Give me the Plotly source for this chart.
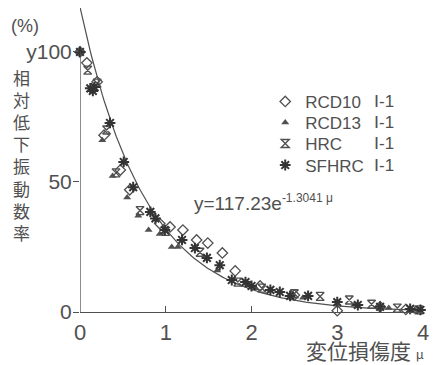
import numpy as np
import plotly.graph_objects as go

# ---- data ----
rcd10_x = [0.0, 0.08, 0.20, 0.28, 0.47, 0.58, 0.93, 1.05, 1.20, 1.36, 1.49, 1.66, 1.81, 2.10, 2.50, 3.00, 3.50, 3.80]
rcd10_y = [100, 95.8, 88.5, 68.0, 54.6, 47.0, 34.0, 32.7, 31.5, 27.7, 26.5, 22.7, 15.8, 10.0, 6.5, 0.5, 2.0, 1.0]

rcd13_x = [0.26, 0.38, 0.55, 0.68, 0.80, 0.93, 1.07, 1.14, 1.60, 2.05, 2.60, 3.20, 3.60, 3.90]
rcd13_y = [66.0, 52.3, 44.0, 37.0, 31.5, 30.0, 25.0, 25.0, 16.0, 9.0, 5.5, 2.8, 1.5, 0.8]

hrc_x = [0.09, 0.20, 0.31, 0.42, 0.70, 1.00, 1.40, 1.84, 2.12, 2.50, 2.80, 3.14, 3.40, 3.70, 3.95]
hrc_y = [93.0, 88.0, 70.0, 53.5, 39.0, 31.0, 23.0, 11.5, 9.2, 7.0, 6.0, 4.6, 3.0, 1.5, 0.8]

sf_x = [0.0, 0.12, 0.15, 0.17, 0.35, 0.51, 0.62, 0.82, 0.88, 0.99, 1.19, 1.34, 1.48, 1.63, 1.77,
        1.93, 2.00, 2.22, 2.33, 2.45, 2.66, 3.00, 3.24, 3.50, 3.85, 3.97]
sf_y = [100, 86.0, 85.0, 86.5, 72.7, 57.7, 48.0, 38.5, 36.0, 31.5, 27.7, 24.6, 20.8, 18.0, 12.3,
        11.5, 10.0, 8.5, 7.7, 6.2, 6.2, 3.8, 2.7, 2.0, 1.2, 0.8]

fit_a = 117.23
fit_b = 1.3041

x_ticks = [0, 1, 2, 3, 4]
x_ticktext = ["0", "1", "2", "3", "4"]
y_ticks = [0, 50, 100]
y_ticktext = ["0", "50", "y100"]

legend_names = ["RCD10", "RCD13", "HRC", "SFHRC"]
legend_suffix = "Ⅰ-1"

ink = "#505050"
font_main = "Liberation Sans, Arial, sans-serif"
font_cjk = "Noto Sans CJK JP, sans-serif"

fig = go.Figure()

fx = np.linspace(0, 4, 200)
fy = fit_a * np.exp(-fit_b * fx)
fig.add_trace(go.Scatter(x=fx, y=fy, mode="lines", line=dict(color=ink, width=1.2),
                         showlegend=False, hoverinfo="skip"))

series = [
    (rcd10_x, rcd10_y, "diamond-open", dict(size=8, color=ink, line=dict(width=1.3, color=ink))),
    (rcd13_x, rcd13_y, "triangle-up", dict(size=7, color=ink)),
    (hrc_x, hrc_y, "hourglass-open", dict(size=8, color=ink, line=dict(width=1.4, color=ink))),
    (sf_x, sf_y, "asterisk-open", dict(size=9, color="#333333", line=dict(width=2, color="#333333"))),
]
legend_ids = ["legend", "legend2", "legend3", "legend4"]
legend_rows = [0.691, 0.622, 0.553, 0.482]
for (sx, sy, sym, mk), name, lid in zip(series, legend_names, legend_ids):
    m = dict(mk)
    m["symbol"] = sym
    fig.add_trace(go.Scatter(x=sx, y=sy, mode="markers", marker=m, name=name,
                             legend=lid, cliponaxis=False))

# y axis line from 0 to 100
fig.add_shape(type="line", xref="x", yref="y", x0=0, x1=0, y0=0, y1=100,
              line=dict(color=ink, width=1.3))

legend_common = dict(xanchor="left", yanchor="middle",
                     font=dict(size=17, family=font_main, color=ink),
                     bgcolor="rgba(0,0,0,0)", itemwidth=30)
layout_legends = {}
for lid, ly in zip(legend_ids, legend_rows):
    d = dict(legend_common)
    d["x"] = 0.54
    d["y"] = ly
    layout_legends[lid] = d

fig.update_layout(
    width=433, height=357,
    margin=dict(l=72, r=18, t=0, b=53),
    paper_bgcolor="white", plot_bgcolor="white",
    font=dict(family=font_main, color=ink),
    showlegend=True,
    xaxis=dict(range=[0, 4], showgrid=False, zeroline=False, showline=True,
               linecolor=ink, linewidth=1.3, ticks="inside", ticklen=6, tickcolor=ink,
               tickvals=x_ticks, ticktext=x_ticktext,
               tickfont=dict(size=22, family=font_main, color=ink)),
    yaxis=dict(range=[0, 116.9], showgrid=False, zeroline=False, showline=False,
               ticks="outside", ticklen=6, tickcolor=ink, ticklabelstandoff=-3,
               tickvals=y_ticks, ticktext=y_ticktext,
               tickfont=dict(size=21, family=font_main, color=ink)),
    **layout_legends,
)

# "Ⅰ-1" column of the legend
for ly in legend_rows:
    fig.add_annotation(xref="paper", yref="paper", x=0.852, y=ly, xanchor="left", yanchor="middle",
                       text=legend_suffix, showarrow=False,
                       font=dict(size=17, family=font_main, color=ink))

fig.add_annotation(xref="paper", yref="paper", x=0.536, y=0.36, xanchor="center", yanchor="middle",
                   text="y=117.23e<sup><span style='font-size:12px'>-1.3041 μ</span></sup>",
                   showarrow=False, font=dict(size=19, family=font_main, color=ink))
fig.add_annotation(xref="paper", yref="paper", x=-0.16, y=0.94, xanchor="center", yanchor="middle",
                   text="(%)", showarrow=False, font=dict(size=18, family=font_main, color=ink))
fig.add_annotation(xref="paper", yref="paper", x=-0.172, y=0.516, xanchor="center", yanchor="middle",
                   text="<br>".join(list("相対低下振動数率")), showarrow=False,
                   font=dict(size=17, family=font_cjk, color=ink))
fig.add_annotation(xref="paper", yref="paper", x=1.009, y=-0.124, xanchor="right", yanchor="middle",
                   text="変位損傷度 <span style='font-size:13px'>μ</span>", showarrow=False,
                   font=dict(size=21, family=font_cjk, color=ink))

fig.write_html("out.html")
